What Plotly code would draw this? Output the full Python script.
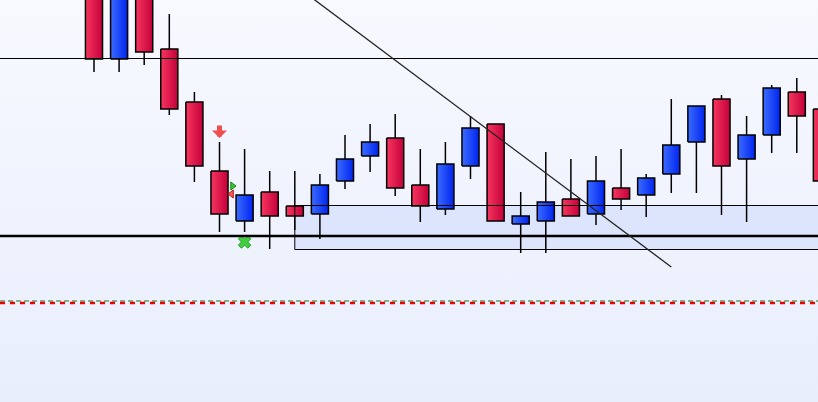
import plotly.graph_objects as go

# bar index on x, prices on y
bar_idx = list(range(30))
open_p = [1.1412, 1.1343, 1.1407, 1.1353, 1.1300, 1.1231, 1.1181, 1.1210, 1.1196, 1.1188,
          1.1221, 1.1246, 1.1264, 1.1217, 1.1193, 1.1236, 1.1278, 1.1178, 1.1181, 1.1203,
          1.1188, 1.1214, 1.1207, 1.1228, 1.1260, 1.1303, 1.1243, 1.1267, 1.1310, 1.1293]
high_p = [1.1422, 1.1427, 1.1412, 1.1388, 1.1310, 1.1260, 1.1253, 1.1231, 1.1231, 1.1228,
          1.1267, 1.1278, 1.1288, 1.1253, 1.1260, 1.1286, 1.1278, 1.1210, 1.1250, 1.1243,
          1.1246, 1.1253, 1.1228, 1.1303, 1.1296, 1.1307, 1.1286, 1.1317, 1.1324, 1.1302]
low_p = [1.1330, 1.1330, 1.1337, 1.1287, 1.1220, 1.1170, 1.1170, 1.1153, 1.1172, 1.1163,
         1.1213, 1.1230, 1.1206, 1.1180, 1.1187, 1.1223, 1.1181, 1.1149, 1.1149, 1.1186,
         1.1177, 1.1192, 1.1185, 1.1209, 1.1209, 1.1187, 1.1180, 1.1249, 1.1249, 1.1212]
close_p = [1.1343, 1.1417, 1.1350, 1.1293, 1.1236, 1.1188, 1.1207, 1.1186, 1.1186, 1.1217,
           1.1243, 1.1260, 1.1214, 1.1196, 1.1238, 1.1274, 1.1181, 1.1186, 1.1200, 1.1186,
           1.1221, 1.1203, 1.1224, 1.1257, 1.1296, 1.1236, 1.1267, 1.1314, 1.1286, 1.1221]

# levels / drawings
resistance = 1.13435
support = 1.1166
zone_start = 8
zone_low = 1.11525
zone_high = 1.11965
trend_idx = [8, 23]
trend_price = [1.1417, 1.1135]
green_dash_level = 1.1101
red_dash_level = 1.1099

# signals
sell_arrow_idx = [5]
sell_arrow_price = [1.1264]
buy_tri_idx = [5.52]
buy_tri_price = [1.1216]
sell_tri_idx = [5.48]
sell_tri_price = [1.1208]
exit_idx = [6]
exit_price = [1.1160]

X_RANGE = [-3.745, 28.845]
Y_RANGE = [1.1000, 1.1402]
HALF_W = 0.34

RED_SCALE = [[0, '#f7365f'], [1, '#c4003a']]
BLUE_SCALE = [[0, '#3b6cff'], [1, '#0024ee']]

traces = []

# background gradient
traces.append(go.Scatter(
    x=[X_RANGE[0], X_RANGE[1], X_RANGE[1], X_RANGE[0], X_RANGE[0]],
    y=[Y_RANGE[0], Y_RANGE[0], Y_RANGE[1], Y_RANGE[1], Y_RANGE[0]],
    mode='lines', line=dict(width=0), fill='toself',
    fillgradient=dict(type='vertical', colorscale=[[0, '#e8eefc'], [1, '#f8f9ff']]),
    hoverinfo='skip'))

# zone fill
traces.append(go.Scatter(
    x=[zone_start, X_RANGE[1] + 1, X_RANGE[1] + 1, zone_start, zone_start],
    y=[zone_low, zone_low, zone_high, zone_high, zone_low],
    mode='lines', line=dict(width=0), fill='toself', fillcolor='#dce5fb',
    hoverinfo='skip'))

# wicks
wx, wy = [], []
for i, lo, hi in zip(bar_idx, low_p, high_p):
    wx += [i, i, None]
    wy += [lo, hi, None]
traces.append(go.Scatter(x=wx, y=wy, mode='lines', line=dict(color='black', width=1.5),
                         hoverinfo='skip'))

# bodies
for i, o, c in zip(bar_idx, open_p, close_p):
    scale = BLUE_SCALE if c > o else RED_SCALE
    traces.append(go.Scatter(
        x=[i - HALF_W, i + HALF_W, i + HALF_W, i - HALF_W, i - HALF_W],
        y=[o, o, c, c, o],
        mode='lines', line=dict(color='black', width=1.5), fill='toself',
        fillgradient=dict(type='horizontal', colorscale=scale),
        hoverinfo='skip'))

# signal markers
traces.append(go.Scatter(x=buy_tri_idx, y=buy_tri_price, mode='markers',
                         marker=dict(symbol='triangle-right', size=7, color='#33c633',
                                     line=dict(color='#168a16', width=1))))
traces.append(go.Scatter(x=sell_tri_idx, y=sell_tri_price, mode='markers',
                         marker=dict(symbol='triangle-left', size=7, color='#f25a5a',
                                     line=dict(color='#c01818', width=1))))
traces.append(go.Scatter(x=exit_idx, y=exit_price, mode='markers',
                         marker=dict(symbol='x', size=11, color='#3fcf3f',
                                     line=dict(color='#24a024', width=1))))

shapes = [
    dict(type='line', xref='paper', x0=0, x1=1, y0=resistance, y1=resistance,
         line=dict(color='black', width=1)),
    dict(type='rect', x0=zone_start, x1=X_RANGE[1] + 1, y0=zone_low, y1=zone_high,
         line=dict(color='black', width=1)),
    dict(type='line', xref='paper', x0=0, x1=1, y0=support, y1=support,
         line=dict(color='black', width=2.5)),
    dict(type='line', x0=trend_idx[0], x1=trend_idx[1], y0=trend_price[0], y1=trend_price[1],
         line=dict(color='#222222', width=1.3)),
    dict(type='line', xref='paper', x0=0, x1=1, y0=green_dash_level, y1=green_dash_level,
         line=dict(color='#1a7a1a', width=1.2, dash='5px,3px')),
    dict(type='line', xref='paper', x0=0, x1=1, y0=red_dash_level, y1=red_dash_level,
         line=dict(color='#ee0000', width=2.5, dash='5px,5px')),
]

annotations = [
    dict(x=sell_arrow_idx[0], y=sell_arrow_price[0], ax=0, ay=-14, text='',
         showarrow=True, arrowhead=1, arrowsize=0.5, arrowwidth=5, arrowcolor='#ef4f4f',
         standoff=0),
]

layout = go.Layout(width=818, height=402, margin=dict(l=0, r=0, t=0, b=0),
                   paper_bgcolor='#f0f4fe', plot_bgcolor='#f0f4fe', showlegend=False,
                   xaxis=dict(visible=False, range=X_RANGE, fixedrange=True),
                   yaxis=dict(visible=False, range=Y_RANGE, fixedrange=True),
                   shapes=shapes, annotations=annotations)
fig = go.Figure(data=traces, layout=layout)
fig.write_html("out.html", config=dict(displayModeBar=False),
               post_script="document.body.style.margin='0';document.body.style.overflow='hidden';")
